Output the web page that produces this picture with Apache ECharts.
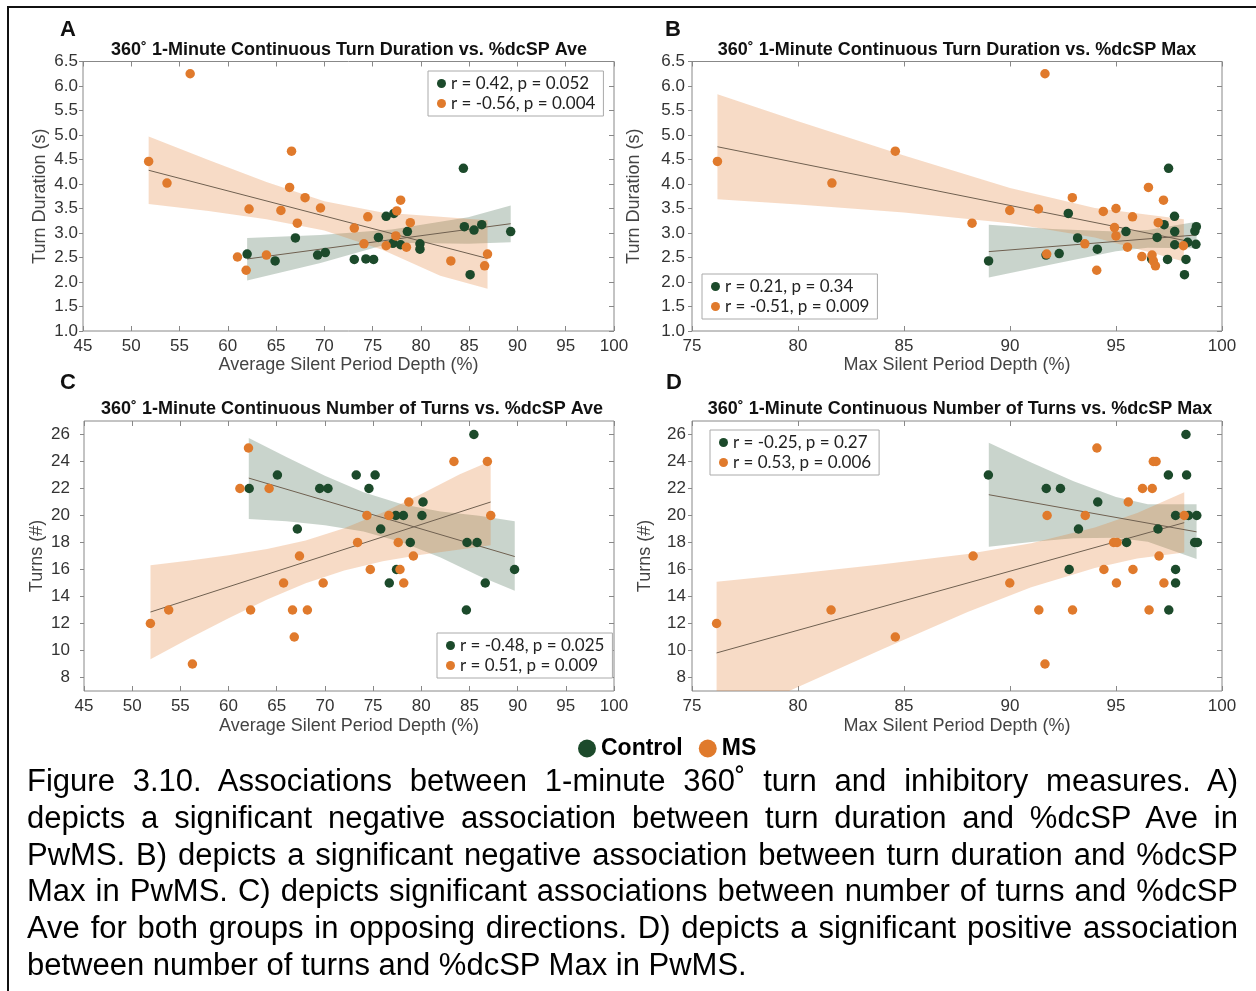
<!DOCTYPE html>
<html>
<head>
<meta charset="utf-8">
<script src="https://cdn.jsdelivr.net/npm/echarts@6/dist/echarts.min.js"></script>
<style>
  body { margin: 0; background: #fff; }
  #chart { position: absolute; left: 0; top: 0; width: 1256px; height: 991px; }
  #frame { position: absolute; left: 7px; top: 6px; width: 1260px; height: 1000px;
    border-left: 2px solid #111; border-top: 2px solid #111; }
  #caption { position: absolute; left: 27px; top: 763px; width: 1211px;
    font-family: "Liberation Sans", Arial, sans-serif; font-size: 31px; line-height: 36.8px; color: #000; }
  #caption div { text-align: justify; text-align-last: justify; }
  #caption div.last { text-align-last: left; }
</style>
</head>
<body>
<div id="frame"></div>
<div id="chart"></div>
<div id="caption">
  <div>Figure 3.10. Associations between 1-minute 360˚ turn and inhibitory measures. A)</div>
  <div>depicts a significant negative association between turn duration and %dcSP Ave in</div>
  <div>PwMS. B) depicts a significant negative association between turn duration and %dcSP</div>
  <div>Max in PwMS. C) depicts significant associations between number of turns and %dcSP</div>
  <div>Ave for both groups in opposing directions. D) depicts a significant positive association</div>
  <div class="last">between number of turns and %dcSP Max in PwMS.</div>
</div>
<script>
// ---- panel A: turn duration vs %dcSP Ave ----
const aCtrlX = [84.4, 76.4, 77.2, 78.6, 84.5, 85.5, 86.3, 89.3, 67.0, 75.6, 77.1, 77.9, 79.9, 79.9, 62.0, 64.9, 69.3, 70.1, 73.1, 74.3, 75.1, 85.1];
const aCtrlY = [4.32, 3.34, 3.40, 3.03, 3.13, 3.06, 3.17, 3.03, 2.90, 2.91, 2.79, 2.76, 2.78, 2.67, 2.57, 2.43, 2.55, 2.60, 2.46, 2.47, 2.46, 2.15];
const aMsX = [56.1, 51.8, 53.7, 66.6, 66.4, 68.0, 62.2, 65.5, 69.6, 67.2, 74.5, 73.1, 77.9, 77.5, 78.9, 77.4, 74.1, 76.4, 78.5, 61.0, 64.0, 61.9, 83.1, 86.9, 86.6];
const aMsY = [6.25, 4.46, 4.02, 4.67, 3.93, 3.72, 3.49, 3.46, 3.51, 3.20, 3.33, 3.10, 3.67, 3.45, 3.21, 2.94, 2.78, 2.74, 2.71, 2.51, 2.55, 2.24, 2.43, 2.57, 2.33];
const aCtrlFitX = [62.0, 89.3];
const aCtrlFitY = [2.47, 3.19];
const aMsFitX = [51.8, 86.9];
const aMsFitY = [4.28, 2.48];
const aCtrlBandX = [62.0, 69.6, 77.0, 84.9, 89.3];
const aCtrlBandLo = [2.03, 2.39, 2.80, 2.78, 2.81];
const aCtrlBandHi = [2.90, 2.96, 3.07, 3.32, 3.56];
const aMsBandX = [51.8, 58, 64, 70, 76, 82, 86.9];
const aMsBandLo = [3.59, 3.45, 3.28, 3.05, 2.66, 2.13, 1.86];
const aMsBandHi = [4.97, 4.49, 4.04, 3.65, 3.42, 3.33, 3.26];

// ---- panel B: turn duration vs %dcSP Max ----
const bCtrlX = [97.48, 92.75, 97.76, 97.27, 97.77, 98.72, 98.79, 95.47, 93.19, 96.94, 97.77, 98.38, 98.77, 94.12, 91.70, 92.32, 88.99, 96.68, 97.43, 98.30, 98.23];
const bCtrlY = [4.32, 3.40, 3.34, 3.17, 3.03, 3.04, 3.13, 3.03, 2.90, 2.91, 2.76, 2.81, 2.77, 2.67, 2.55, 2.58, 2.43, 2.47, 2.46, 2.46, 2.15];
const bMsX = [91.65, 76.20, 81.60, 84.59, 89.99, 91.34, 88.21, 92.94, 94.40, 95.00, 95.78, 96.53, 97.24, 96.99, 94.93, 95.00, 93.53, 95.54, 91.73, 96.22, 96.70, 96.76, 96.86, 94.09, 98.18];
const bMsY = [6.25, 4.46, 4.02, 4.67, 3.46, 3.49, 3.20, 3.72, 3.44, 3.50, 3.33, 3.93, 3.67, 3.21, 3.11, 2.94, 2.78, 2.71, 2.57, 2.52, 2.55, 2.43, 2.33, 2.24, 2.74];
const bCtrlFitX = [89.0, 98.8];
const bCtrlFitY = [2.62, 2.96];
const bMsFitX = [76.2, 98.2];
const bMsFitY = [4.76, 2.85];
const bCtrlBandX = [89.0, 92.0, 95.0, 96.5, 98.8];
const bCtrlBandLo = [2.09, 2.36, 2.63, 2.70, 2.69];
const bCtrlBandHi = [3.17, 3.08, 3.03, 3.06, 3.23];
const bMsBandX = [76.2, 80, 85, 90, 94, 98.2];
const bMsBandLo = [3.69, 3.58, 3.42, 3.20, 2.91, 2.42];
const bMsBandHi = [5.83, 5.28, 4.58, 3.92, 3.51, 3.28];

// ---- panel C: number of turns vs %dcSP Ave ----
const cCtrlX = [85.46, 65.07, 73.25, 75.21, 62.14, 69.46, 70.32, 74.57, 80.18, 77.36, 78.14, 80.07, 67.14, 75.79, 78.86, 84.75, 85.79, 89.68, 77.43, 76.68, 86.64, 84.68];
const cCtrlY = [26, 23, 23, 23, 22, 22, 22, 22, 21, 20, 20, 20, 19, 19, 18, 18, 18, 16, 16, 15, 15, 13];
const cMsX = [62.07, 83.39, 86.86, 61.18, 64.21, 78.71, 74.36, 76.64, 87.21, 73.39, 77.61, 67.36, 79.18, 74.71, 77.79, 65.71, 69.82, 78.18, 53.79, 62.29, 66.64, 68.18, 51.89, 66.82, 56.25];
const cMsY = [25, 24, 24, 22, 22, 21, 20, 20, 20, 18, 18, 17, 17, 16, 16, 15, 15, 15, 13, 13, 13, 13, 12, 11, 9];
const cCtrlFitX = [62.1, 89.7];
const cCtrlFitY = [22.77, 16.96];
const cMsFitX = [51.9, 87.2];
const cMsFitY = [12.85, 21.0];
const cCtrlBandX = [62.1, 66, 70, 74, 78, 82, 86, 89.7];
const cCtrlBandLo = [19.75, 19.57, 19.28, 18.82, 18.02, 16.88, 15.52, 14.43];
const cCtrlBandHi = [25.75, 24.33, 22.94, 21.72, 20.84, 20.30, 19.98, 19.57];
const cMsBandX = [51.9, 56, 60, 64, 68, 72, 76, 80, 84, 87.2];
const cMsBandLo = [9.35, 10.93, 12.39, 13.78, 14.99, 15.93, 16.61, 17.09, 17.48, 17.8];
const cMsBandHi = [16.32, 16.67, 17.05, 17.52, 18.15, 19.05, 20.23, 21.59, 23.06, 24.03];

// ---- panel D: number of turns vs %dcSP Max ----
const dCtrlX = [98.30, 88.98, 97.47, 98.33, 91.71, 92.38, 94.14, 97.81, 98.42, 98.81, 93.23, 96.98, 95.50, 98.71, 98.84, 92.79, 97.81, 97.81, 97.49];
const dCtrlY = [26, 23, 23, 23, 22, 22, 21, 20, 20, 20, 19, 19, 18, 18, 18, 16, 16, 15, 13];
const dMsX = [94.10, 96.76, 96.89, 96.25, 96.71, 95.58, 91.75, 93.55, 98.22, 94.89, 95.05, 88.26, 97.03, 94.43, 95.80, 89.99, 95.02, 97.26, 81.56, 91.36, 92.95, 96.56, 76.16, 84.59, 91.65];
const dMsY = [25, 24, 24, 22, 22, 21, 20, 20, 20, 18, 18, 17, 17, 16, 16, 15, 15, 15, 13, 13, 13, 13, 12, 11, 9];
const dCtrlFitX = [89.0, 98.8];
const dCtrlFitY = [21.54, 18.79];
const dMsFitX = [76.16, 98.22];
const dMsFitY = [9.82, 19.47];
const dCtrlBandX = [89.0, 91, 93, 95, 96.5, 98.8];
const dCtrlBandLo = [17.68, 18.04, 18.31, 18.35, 18.05, 16.77];
const dCtrlBandHi = [25.38, 23.92, 22.53, 21.37, 20.83, 20.83];
const dMsBandX = [76.16, 80, 84, 88, 91, 94, 96, 98.22];
const dMsBandLo = [4.55, 7.3, 10.12, 12.85, 14.68, 16.12, 16.82, 17.26];
const dMsBandHi = [15.09, 15.7, 16.38, 17.15, 17.94, 19.12, 20.18, 21.72];

const turnTicks = [8, 10, 12, 14, 16, 18, 20, 22, 24, 26];
const panelLetters = ["A", "B", "C", "D"];
const panelTitles = [
  "360˚ 1-Minute Continuous Turn Duration vs. %dcSP Ave",
  "360˚ 1-Minute Continuous Turn Duration vs. %dcSP Max",
  "360˚ 1-Minute Continuous Number of Turns vs. %dcSP Ave",
  "360˚ 1-Minute Continuous Number of Turns vs. %dcSP Max",
];
const statsCtrl = ["r = 0.42, p = 0.052", "r = 0.21, p = 0.34", "r = -0.48, p = 0.025", "r = -0.25, p = 0.27"];
const statsMs = ["r = -0.56, p = 0.004", "r = -0.51, p = 0.009", "r = 0.51, p = 0.009", "r = 0.53, p = 0.006"];

const GREEN = "#1c4a2b";
const ORANGE = "#e07a2c";
const GREEN_BAND = "rgba(28, 74, 43, 0.24)";
const ORANGE_BAND = "rgba(224, 122, 44, 0.27)";
const FIT = "#6f6050";
const FONT = "Liberation Sans";

const zip = (xs, ys) => xs.map((x, i) => [x, ys[i]]);

// 面板布局
const panels = [
  { grid: { left: 83, top: 61.5, width: 531, height: 269.5 }, xMin: 45, xMax: 100, turns: false,
    xName: "Average Silent Period Depth (%)", xGap: 24, yGap: 34, yMargin: 5,
    legend: { left: 428, top: 71 }, letter: [68, 30], title: [349, 50],
    ctrl: zip(aCtrlX, aCtrlY), ms: zip(aMsX, aMsY),
    ctrlFit: zip(aCtrlFitX, aCtrlFitY), msFit: zip(aMsFitX, aMsFitY),
    ctrlBand: [aCtrlBandX, aCtrlBandLo, aCtrlBandHi], msBand: [aMsBandX, aMsBandLo, aMsBandHi] },
  { grid: { left: 692, top: 61.5, width: 530, height: 269.5 }, xMin: 75, xMax: 100, turns: false,
    xName: "Max Silent Period Depth (%)", xGap: 21, yGap: 49, yMargin: 7,
    legend: { left: 702, top: 274 }, letter: [673, 30], title: [957, 50],
    ctrl: zip(bCtrlX, bCtrlY), ms: zip(bMsX, bMsY),
    ctrlFit: zip(bCtrlFitX, bCtrlFitY), msFit: zip(bMsFitX, bMsFitY),
    ctrlBand: [bCtrlBandX, bCtrlBandLo, bCtrlBandHi], msBand: [bMsBandX, bMsBandLo, bMsBandHi] },
  { grid: { left: 84, top: 421, width: 530, height: 270 }, xMin: 45, xMax: 100, turns: true,
    xName: "Average Silent Period Depth (%)", xGap: 26, yGap: 38, yMargin: 14,
    legend: { left: 437, top: 633 }, letter: [68, 383], title: [352, 409],
    ctrl: zip(cCtrlX, cCtrlY), ms: zip(cMsX, cMsY),
    ctrlFit: zip(cCtrlFitX, cCtrlFitY), msFit: zip(cMsFitX, cMsFitY),
    ctrlBand: [cCtrlBandX, cCtrlBandLo, cCtrlBandHi], msBand: [cMsBandX, cMsBandLo, cMsBandHi] },
  { grid: { left: 692, top: 421, width: 530, height: 270 }, xMin: 75, xMax: 100, turns: true,
    xName: "Max Silent Period Depth (%)", xGap: 26, yGap: 38, yMargin: 6,
    legend: { left: 710, top: 430 }, letter: [674, 383], title: [960, 409],
    ctrl: zip(dCtrlX, dCtrlY), ms: zip(dMsX, dMsY),
    ctrlFit: zip(dCtrlFitX, dCtrlFitY), msFit: zip(dMsFitX, dMsFitY),
    ctrlBand: [dCtrlBandX, dCtrlBandLo, dCtrlBandHi], msBand: [dMsBandX, dMsBandLo, dMsBandHi] },
];

const tickStyle = { color: "#888", width: 1 };
const labelStyle = { fontFamily: FONT, fontSize: 17, color: "#333" };
const nameStyle = { fontFamily: FONT, fontSize: 18, color: "#444" };

function bandSeries(g, band, color, z) {
  const [xs, lo, hi] = band;
  return {
    type: "custom", xAxisIndex: g * 2, yAxisIndex: g * 2, clip: true, silent: true, z: z,
    data: xs.map((x, i) => [x, lo[i], hi[i]]),
    encode: { x: 0, y: [1, 2] },
    renderItem: function (params, api) {
      if (params.dataIndex !== 0) return;
      const upper = xs.map((x, i) => api.coord([x, hi[i]]));
      const lower = xs.map((x, i) => api.coord([x, lo[i]])).reverse();
      return { type: "polygon", shape: { points: upper.concat(lower) }, style: { fill: color } };
    },
  };
}

const grids = [], xAxes = [], yAxes = [], series = [], legends = [], graphics = [];

panels.forEach((p, g) => {
  grids.push(Object.assign({ show: true, borderColor: "#888", borderWidth: 1, backgroundColor: "transparent" }, p.grid));

  const xBase = { gridIndex: g, type: "value", min: p.xMin, max: p.xMax, interval: 5,
    axisLine: { show: false }, splitLine: { show: false } };
  xAxes.push(Object.assign({}, xBase, {
    position: "bottom",
    axisTick: { inside: true, length: 5, lineStyle: tickStyle },
    axisLabel: Object.assign({ margin: 7 }, labelStyle),
    name: p.xName, nameLocation: "middle", nameGap: p.xGap, nameTextStyle: nameStyle,
  }));
  xAxes.push(Object.assign({}, xBase, {
    position: "top", axisLabel: { show: false },
    axisTick: { inside: true, length: 5, lineStyle: tickStyle },
  }));

  const yBase = p.turns
    ? { gridIndex: g, type: "value", min: 7, max: 27, axisLine: { show: false }, splitLine: { show: false } }
    : { gridIndex: g, type: "value", min: 1, max: 6.5, interval: 0.5, axisLine: { show: false }, splitLine: { show: false } };
  const yTick = p.turns ? { customValues: turnTicks } : {};
  yAxes.push(Object.assign({}, yBase, {
    position: "left",
    axisTick: Object.assign({ inside: false, length: 4, lineStyle: tickStyle }, yTick),
    axisLabel: Object.assign({ margin: p.yMargin,
      formatter: (v) => (p.turns ? String(v) : v.toFixed(1)) }, labelStyle, yTick),
    name: p.turns ? "Turns (#)" : "Turn Duration (s)",
    nameLocation: "middle", nameGap: p.yGap, nameTextStyle: nameStyle,
  }));
  yAxes.push(Object.assign({}, yBase, {
    position: "right", axisLabel: { show: false },
    axisTick: Object.assign({ inside: true, length: 5, lineStyle: tickStyle }, yTick),
  }));

  series.push(bandSeries(g, p.ctrlBand, GREEN_BAND, 1));
  series.push(bandSeries(g, p.msBand, ORANGE_BAND, 2));
  [p.ctrlFit, p.msFit].forEach((fit) => {
    series.push({ type: "line", xAxisIndex: g * 2, yAxisIndex: g * 2, data: fit, symbol: "none",
      silent: true, z: 3, lineStyle: { color: FIT, width: 1 } });
  });
  series.push({ name: statsCtrl[g], type: "scatter", xAxisIndex: g * 2, yAxisIndex: g * 2,
    data: p.ctrl, symbolSize: 9.5, itemStyle: { color: GREEN, opacity: 1 }, z: 4 });
  series.push({ name: statsMs[g], type: "scatter", xAxisIndex: g * 2, yAxisIndex: g * 2,
    data: p.ms, symbolSize: 9.5, itemStyle: { color: ORANGE, opacity: 1 }, z: 5 });

  legends.push({
    data: [statsCtrl[g], statsMs[g]], left: p.legend.left, top: p.legend.top, orient: "vertical",
    selectedMode: false, backgroundColor: "#fff", borderColor: "#aaa", borderWidth: 1,
    padding: [4, 8, 4, 9], itemGap: 3, itemWidth: 9, itemHeight: 9, icon: "circle",
    textStyle: { fontFamily: "Lato", fontSize: 17, color: "#222" },
  });

  graphics.push({ type: "text", x: p.letter[0], y: p.letter[1], silent: true,
    style: { text: panelLetters[g], font: 'bold 22px "Liberation Sans"', fill: "#111",
      textAlign: "center", textVerticalAlign: "middle" } });
  graphics.push({ type: "text", x: p.title[0], y: p.title[1], silent: true,
    style: { text: panelTitles[g], font: 'bold 18px "Liberation Sans"', fill: "#111",
      textAlign: "center", textVerticalAlign: "middle" } });
});

// 底部分组图例
series.push({ name: "Control", type: "scatter", data: [], itemStyle: { color: GREEN, opacity: 1 } });
series.push({ name: "MS", type: "scatter", data: [], itemStyle: { color: ORANGE, opacity: 1 } });
legends.push({
  data: ["Control", "MS"], left: 573, top: 732, selectedMode: false, icon: "circle",
  itemWidth: 18, itemHeight: 18, itemGap: 16,
  textStyle: { fontFamily: FONT, fontSize: 23, fontWeight: "bold", color: "#000" },
});

const myChart = echarts.init(document.getElementById("chart"), null, { renderer: "canvas" });
myChart.setOption({
  animation: false,
  grid: grids,
  xAxis: xAxes,
  yAxis: yAxes,
  legend: legends,
  graphic: graphics,
  series: series,
});
</script>
</body>
</html>
